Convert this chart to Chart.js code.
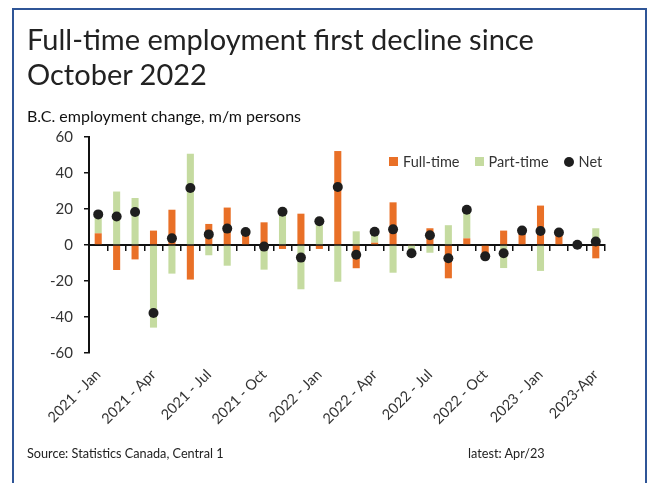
<!DOCTYPE html>
<html>
<head>
<meta charset="utf-8">
<script src="https://cdn.jsdelivr.net/npm/chart.js@4.4.1/dist/chart.umd.min.js"></script>
<style>
  html, body { margin:0; padding:0; background:#fff; }
  body { width:652px; height:483px; position:relative; overflow:hidden; font-family:Lato, "Open Sans", sans-serif; }
  #frame { position:absolute; left:12px; top:8px; width:635px; height:520px; box-sizing:border-box; border:2px solid #2F5597; border-bottom:none; }
  #c { position:absolute; left:0; top:0; }
  .t { position:absolute; white-space:nowrap; color:#222; }
  #title { left:27px; top:21px; font-size:29px; line-height:35px; }
  #sub { left:27px; top:106px; font-size:16px; color:#111; }
  #src { left:27px; top:445px; font-size:12.7px; color:#222; }
  #latest { left:468px; top:445px; font-size:12.7px; color:#222; }
  #legend { position:absolute; left:389px; top:153px; font-size:14.5px; color:#333; display:flex; align-items:center; white-space:nowrap; }
  #legend .it { display:flex; align-items:center; margin-right:15px; }
  #legend .sw { width:9px; height:9px; margin-right:5px; }
</style>
</head>
<body>
<div id="frame"></div>
<canvas id="c" width="652" height="483"></canvas>
<div class="t" id="title">Full-time employment first decline since<br>October 2022</div>
<div class="t" id="sub">B.C. employment change, m/m persons</div>
<div id="legend"></div>
<div class="t" id="src">Source: Statistics Canada, Central 1</div>
<div class="t" id="latest">latest: Apr/23</div>
<script>
const categories = [
  '2021 - Jan','2021 - Feb','2021 - Mar','2021 - Apr','2021 - May','2021 - Jun',
  '2021 - Jul','2021 - Aug','2021 - Sep','2021 - Oct','2021 - Nov','2021 - Dec',
  '2022 - Jan','2022 - Feb','2022 - Mar','2022 - Apr','2022 - May','2022 - Jun',
  '2022 - Jul','2022 - Aug','2022 - Sep','2022 - Oct','2022 - Nov','2022 - Dec',
  '2023 - Jan','2023 - Feb','2023 - Mar','2023-Apr'
];
const fullTime = [6.5, -13.9, -8, 8, 19.6, -19.2, 11.7, 20.8, 7.2, 12.6, -2.2, 17.4,
                  -2.2, 52.2, -12.9, 1.3, 23.7, 0.5, 9.3, -18.5, 3.7, -6, 8, 8,
                  21.9, 6.5, -0.3, -7.4];
const partTime = [10.5, 29.7, 26.1, -45.9, -15.9, 50.7, -5.7, -11.5, 0, -13.7, 20.7, -24.6,
                  15.4, -20.4, 7.6, 6.1, -15.4, -5.1, -4.3, 11, 16, -0.3, -12.8, 0,
                  -14.4, 0.4, 0.4, 9.3];
const net = [17, 15.8, 18.3, -37.8, 3.7, 31.7, 5.9, 9.1, 7.2, -0.9, 18.5, -7,
             13.2, 32.2, -5.4, 7.4, 8.7, -4.6, 5.4, -7.4, 19.6, -6.3, -4.6, 8,
             7.8, 6.9, 0.1, 1.9];
const yTicks = { min: -60, max: 60, step: 20 };
const labelEvery = 3;
const seriesNames = ['Full-time', 'Part-time', 'Net'];
const colors = { full: '#E97027', part: '#C5DBA0', net: '#1E1E1E' };

Chart.defaults.font.family = 'Lato, "Open Sans", sans-serif';
Chart.defaults.color = '#333';

const chart = new Chart(document.getElementById('c'), {
  data: {
    labels: categories,
    datasets: [
      { type: 'line', label: seriesNames[2], data: net, showLine: false, stack: 'net',
        pointRadius: 5, pointBackgroundColor: colors.net, pointBorderColor: colors.net, pointBorderWidth: 0, order: 0 },
      { type: 'bar', label: seriesNames[0], data: fullTime, backgroundColor: colors.full, stack: 's', order: 1,
        categoryPercentage: 0.8, barPercentage: 0.48 },
      { type: 'bar', label: seriesNames[1], data: partTime, backgroundColor: colors.part, stack: 's', order: 1,
        categoryPercentage: 0.8, barPercentage: 0.48 }
    ]
  },
  options: {
    responsive: false,
    animation: false,
    layout: { padding: { left: 0, top: 137, right: 47, bottom: 0 } },
    plugins: { legend: { display: false }, title: { display: false }, tooltip: { enabled: false } },
    scales: {
      y: {
        stacked: true, min: yTicks.min, max: yTicks.max,
        ticks: { stepSize: yTicks.step, padding: 11, color: '#333', font: { size: 15 } },
        grid: { drawOnChartArea: false, drawTicks: true, tickLength: 5, color: '#111', lineWidth: 1.5 },
        border: { display: true, color: '#111', width: 2 },
        afterFit: s => { s.width = 89; }
      },
      x: {
        stacked: true, position: { y: 0 },
        ticks: { display: false },
        grid: { drawOnChartArea: false, drawTicks: true, tickLength: 5, color: '#111', lineWidth: 1.5, offset: true },
        border: { display: true, color: '#111', width: 2 },
        afterFit: s => { s.height = 0; }
      },
      x2: {
        type: 'category', position: 'bottom', offset: true,
        grid: { display: false, drawTicks: false },
        border: { display: false },
        ticks: {
          autoSkip: false, minRotation: 45, maxRotation: 45, padding: 13, color: '#333', font: { size: 14.5 },
          callback: (v, i) => (i % labelEvery === 0 ? categories[i] : '')
        },
        afterFit: s => { s.height = 130; }
      }
    }
  }
});

// HTML legend built from dataset definitions
const leg = document.getElementById('legend');
[[seriesNames[0], colors.full, false], [seriesNames[1], colors.part, false], [seriesNames[2], colors.net, true]].forEach(([n, c, round]) => {
  const it = document.createElement('div'); it.className = 'it';
  const sw = document.createElement('div'); sw.className = 'sw'; sw.style.background = c;
  if (round) { sw.style.borderRadius = '50%'; sw.style.width = '10px'; sw.style.height = '10px'; }
  const tx = document.createElement('span'); tx.textContent = n;
  it.appendChild(sw); it.appendChild(tx); leg.appendChild(it);
});
</script>
</body>
</html>
